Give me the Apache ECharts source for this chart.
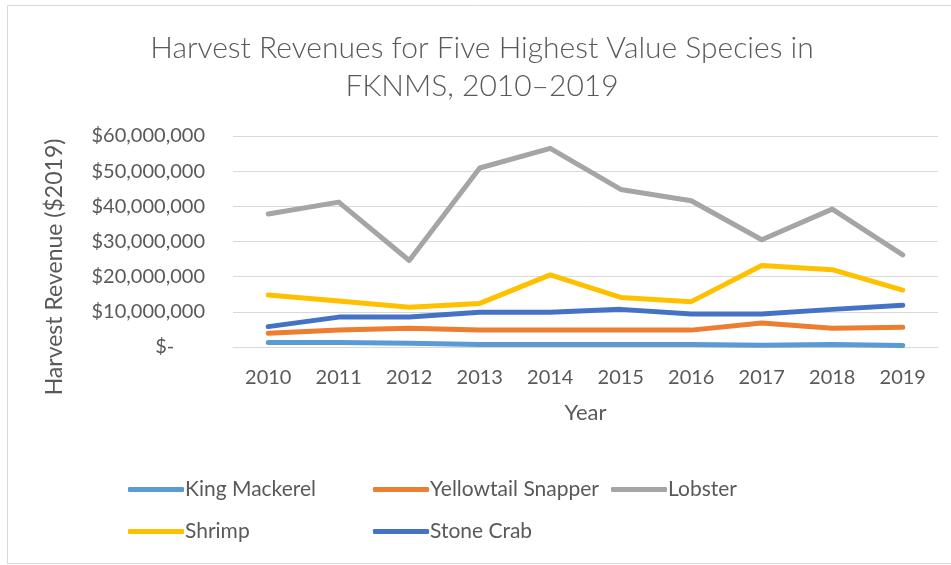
<!DOCTYPE html>
<html>
<head>
<meta charset="utf-8">
<script src="https://cdn.jsdelivr.net/npm/echarts@6/dist/echarts.min.js"></script>
<style>
  html, body { margin: 0; padding: 0; background: #ffffff; }
  #chart { width: 951px; height: 565px; }
</style>
</head>
<body>
<div id="chart"></div>
<script>
// Harvest revenue (2019 dollars) by species, FKNMS 2010-2019
const years = ['2010', '2011', '2012', '2013', '2014', '2015', '2016', '2017', '2018', '2019'];
const kingMackerel = [1300000, 1300000, 1100000, 700000, 700000, 700000, 700000, 500000, 700000, 400000];
const yellowtailSnapper = [3900000, 4800000, 5300000, 4800000, 4800000, 4800000, 4800000, 6800000, 5300000, 5600000];
const lobster = [37800000, 41200000, 24600000, 50900000, 56500000, 44800000, 41600000, 30500000, 39200000, 26200000];
const shrimp = [14800000, 13100000, 11300000, 12400000, 20500000, 14100000, 12900000, 23200000, 22000000, 16200000];
const stoneCrab = [5800000, 8500000, 8500000, 9900000, 9900000, 10700000, 9400000, 9400000, 10700000, 11900000];
const yTicks = [0, 10000000, 20000000, 30000000, 40000000, 50000000, 60000000];

const FONT = 'Lato, "Open Sans", sans-serif';
const TEXT = '#595959';

function money(v) {
  if (v === 0) return '$-      ';
  return '$' + v.toLocaleString('en-US');
}

const seriesDefs = [
  { name: 'King Mackerel', data: kingMackerel, color: '#5B9BD5' },
  { name: 'Yellowtail Snapper', data: yellowtailSnapper, color: '#ED7D31' },
  { name: 'Lobster', data: lobster, color: '#A5A5A5' },
  { name: 'Shrimp', data: shrimp, color: '#FFC000' },
  { name: 'Stone Crab', data: stoneCrab, color: '#4472C4' }
];

const legendBase = {
  orient: 'vertical',
  top: 474,
  itemGap: 21,
  itemWidth: 56,
  itemHeight: 5,
  icon: 'roundRect',
  textStyle: { fontFamily: FONT, fontSize: 21, color: TEXT, padding: [0, 0, 0, -4] }
};

const chart = echarts.init(document.getElementById('chart'), null, { renderer: 'canvas' });
chart.setOption({
  animation: false,
  backgroundColor: '#ffffff',
  title: {
    text: 'Harvest Revenues for Five Highest Value Species in\nFKNMS, 2010\u20132019',
    left: 477,
    textAlign: 'center',
    top: 24,
    textStyle: { fontFamily: FONT, fontWeight: 300, fontSize: 30, color: TEXT, lineHeight: 38 }
  },
  graphic: [{
    type: 'rect',
    shape: { x: 7.5, y: 5.5, width: 950, height: 558 },
    style: { fill: 'none', stroke: '#d9d9d9', lineWidth: 1 },
    silent: true
  }, {
    // vertical axis title, placed a little below the plot's middle
    type: 'text',
    x: 55,
    y: 267,
    rotation: Math.PI / 2,
    style: {
      text: 'Harvest Revenue ($2019)',
      fill: TEXT,
      fontFamily: FONT,
      fontSize: 23,
      align: 'center',
      verticalAlign: 'middle'
    },
    silent: true
  }],
  legend: [
    Object.assign({}, legendBase, { left: 123, data: ['King Mackerel', 'Shrimp'] }),
    Object.assign({}, legendBase, { left: 368, data: ['Yellowtail Snapper', 'Stone Crab'] }),
    Object.assign({}, legendBase, { left: 606, data: ['Lobster'] })
  ],
  grid: { left: 233, right: 13, top: 136, bottom: 218, containLabel: false },
  xAxis: {
    type: 'category',
    data: years,
    boundaryGap: true,
    name: 'Year',
    nameLocation: 'middle',
    nameGap: 55,
    nameTextStyle: { fontFamily: FONT, fontSize: 22, color: TEXT },
    axisLine: { show: true, lineStyle: { color: '#d9d9d9', width: 1 } },
    axisTick: { show: false },
    axisLabel: { fontFamily: FONT, fontSize: 20, color: TEXT, margin: 21 }
  },
  yAxis: {
    type: 'value',
    min: 0,
    max: 60000000,
    interval: 10000000,
    axisLine: { show: false },
    axisTick: { show: false },
    splitLine: { lineStyle: { color: '#d9d9d9', width: 1 } },
    axisLabel: {
      fontFamily: FONT, fontSize: 20, color: TEXT, margin: 28,
      formatter: function (v) { return yTicks.indexOf(v) >= 0 ? money(v) : ''; }
    }
  },
  series: seriesDefs.map(function (s) {
    return {
      name: s.name,
      type: 'line',
      data: s.data,
      symbol: 'none',
      color: s.color,
      lineStyle: { color: s.color, width: 5, cap: 'round', join: 'round' },
      z: 2
    };
  })
});
</script>
</body>
</html>
